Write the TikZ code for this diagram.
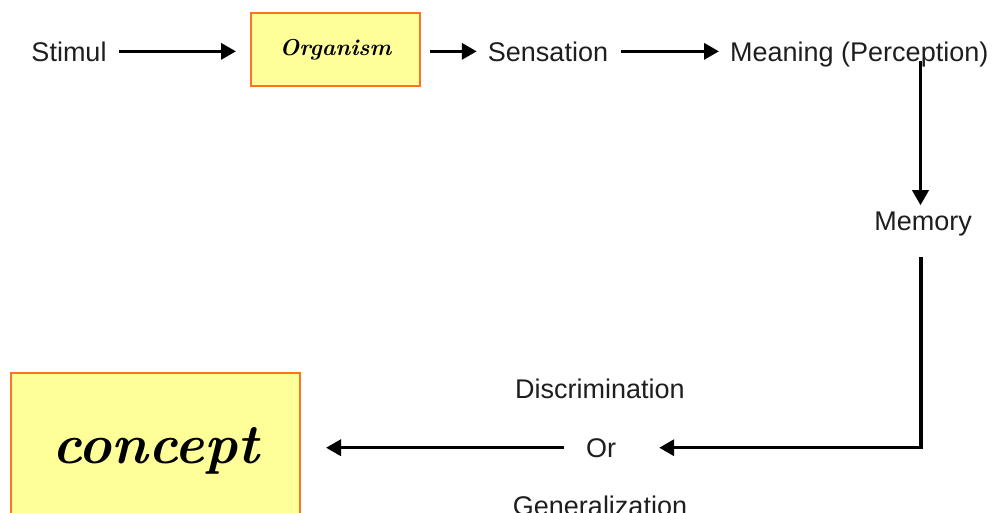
\documentclass[tikz,border=0pt]{standalone}
\usepackage{fontspec}
\newfontfamily\hv{Liberation Sans}
\usetikzlibrary{arrows.meta}
\definecolor{boxfill}{RGB}{255,255,153}
\definecolor{boxline}{RGB}{255,115,30}
\definecolor{ink}{RGB}{30,30,30}
\tikzset{
  lbl/.style={inner sep=0pt, anchor=base, text=ink, font=\hv\fontsize{27}{30}\selectfont},
  ybox/.style={draw=boxline, line width=2pt, fill=boxfill, inner sep=0pt},
  scr/.style={font=\bfseries\itshape\fontsize{#1}{#1}\selectfont, text=black},
  arr/.style={line width=3.5pt, -{Triangle[length=15pt,width=16pt]}},
}
\begin{document}
\begin{tikzpicture}[x=1pt,y=-1pt]
\useasboundingbox (0,0) rectangle (1000,512);
\node[lbl] (stim) at (69,61) {Stimul};
\node[ybox, minimum width=169pt, minimum height=73pt, scr=23] (org) at (335.5,49.5) {Organism};
\node[lbl] (sens) at (548,61) {Sensation};
\node[lbl, anchor=base west] (mean) at (730,61) {Meaning (Perception)};
\node[lbl] (mem) at (923,230.5) {Memory};
\node[lbl] (or) at (601,457) {Or};
\node[lbl] (disc) at (600,398) {Discrimination};
\node[lbl] (gen) at (600,515) {Generalization};
\node[ybox, minimum width=289pt, minimum height=155pt, scr=56] (con) at (155.5,450.5) {concept};

\draw[arr, shorten <=12pt, shorten >=14pt] (stim.east) -- (org.west |- stim.east);
\draw[arr, shorten <=9pt, shorten >=11pt] (org.east |- sens.west) -- (sens.west);
\draw[arr, shorten <=13pt, shorten >=11pt] (sens.east) -- (mean.west |- sens.east);
\draw[arr, shorten >=6.5pt] ([xshift=-2.5pt]mem.north |- mean.base) -- ([xshift=-2.5pt]mem.north);
\draw[arr] ([xshift=-2pt,yshift=-20.5pt]mem.south) |- ([xshift=43pt]or.east);
\draw[arr, shorten <=22pt, shorten >=25pt] (or.west) -- (con.east |- or.west);
\end{tikzpicture}
\end{document}
